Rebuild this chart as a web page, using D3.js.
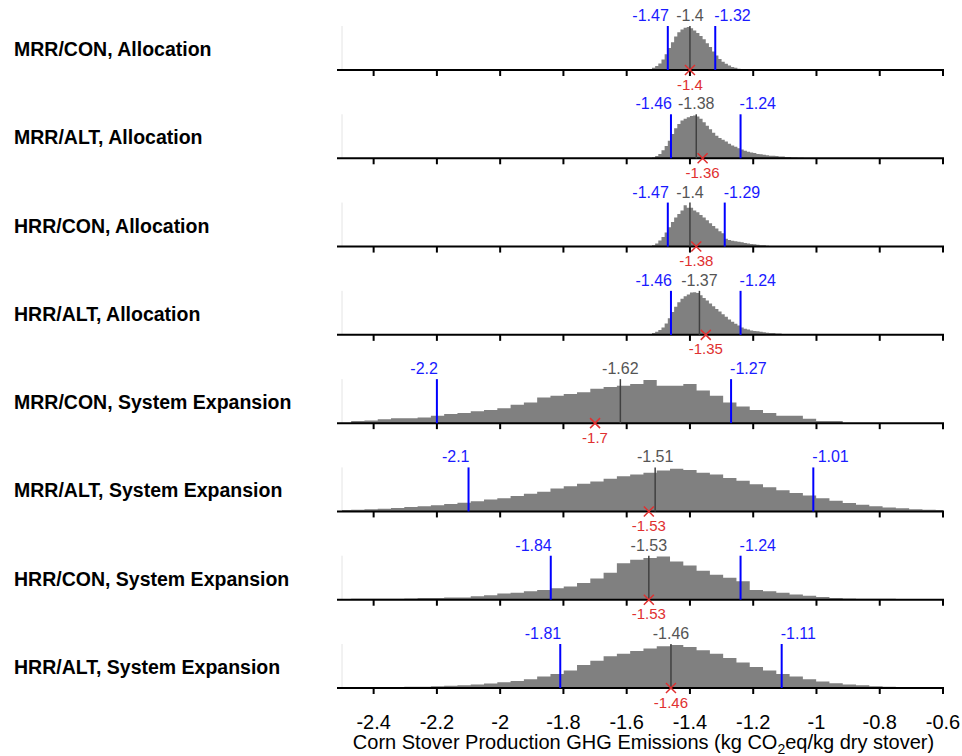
<!DOCTYPE html>
<html>
<head>
<meta charset="utf-8">
<script src="https://cdn.jsdelivr.net/npm/d3@7"></script>
<style>
  body { margin: 0; background: #fff; }
  text { font-family: "Liberation Sans", Arial, sans-serif; }
</style>
</head>
<body>
<svg width="962" height="756"></svg>
<script>
// panel names, top to bottom
var panelNames = [
    "MRR/CON, Allocation",
    "MRR/ALT, Allocation",
    "HRR/CON, Allocation",
    "HRR/ALT, Allocation",
    "MRR/CON, System Expansion",
    "MRR/ALT, System Expansion",
    "HRR/CON, System Expansion",
    "HRR/ALT, System Expansion"
]

// summary stats
var lowVals = [-1.47, -1.46, -1.47, -1.46, -2.2, -2.1, -1.84, -1.81]
var highVals = [-1.32, -1.24, -1.29, -1.24, -1.27, -1.01, -1.24, -1.11]
var medianVals = [-1.4, -1.38, -1.4, -1.37, -1.62, -1.51, -1.53, -1.46]
var meanVals = [-1.4, -1.36, -1.38, -1.35, -1.7, -1.53, -1.53, -1.46]

// histogram bins: first bin edge, bin width, relative heights (0-100)
var binStarts = [-1.53, -1.52, -1.52, -1.53, -2.471, -2.513, -2.513, -2.513]
var binWidths = [0.01, 0.01, 0.01, 0.01, 0.042, 0.042, 0.042, 0.042]

var hist1 = [2,5,9,15,24,36,50,63,76,86,92,96,98,95,90,84,77,70,61,52,42,33,25,19,14,10,7,5,3,2,1]
var hist2 = [2,5,10,18,28,40,55,68,78,86,90,93,96,97,95,90,82,74,66,58,51,46,42,38,33,29,26,23,20,17,15,13,12,10,9,8,7,6,6,5,4,4,3,3,2,2,1,1]
var hist3 = [3,7,14,22,32,44,56,66,74,82,94,88,88,82,78,72,66,60,53,47,41,35,30,18,15,13,12,11,10,8,7,6,5,4,3,3,2,1,1]
var hist4 = [2,4,7,11,17,26,38,52,64,74,82,88,92,96,97,95,90,84,78,71,65,59,53,47,41,35,30,25,21,17,14,12,10,9,8,7,6,5,4,4,3,3,2,2,1,1]
var hist5 = [5,6,9,11,11,13,17,21,23,27,30,34,42,47,58,62,66,70,78,82,85,89,98,85,85,89,74,62,47,38,30,23,17,17,10,5,5]
var hist6 = [3,4,5,6,8,10,12,14,17,20,23,27,30,35,40,45,52,57,63,68,74,80,84,88,93,97,94,88,84,76,70,62,55,48,42,36,30,24,19,15,12,9,7,5,4,3]
var hist7 = [1,2,2,2,2,3,4,4,5,5,8,10,14,16,19,22,26,30,38,48,61,83,91,95,98,87,78,66,57,50,42,22,19,16,12,9,6,4,3,2,2,2,1,1,1]
var hist8 = [1,1,2,2,2,3,3,4,5,6,8,10,13,16,20,26,32,40,52,62,72,78,84,90,95,98,93,86,78,68,58,48,40,32,26,20,15,11,8,6,4,3,2,2,1,1]
var hists = [hist1, hist2, hist3, hist4, hist5, hist6, hist7, hist8]

var xTicks = [-2.4, -2.2, -2, -1.8, -1.6, -1.4, -1.2, -1, -0.8, -0.6]

var svg = d3.select("svg")

var x = d3.scaleLinear().domain([-2.5, -0.6]).range([342, 943])
var yBase = d3.scaleLinear().domain([0, 7]).range([70, 688])
var h = d3.scaleLinear().domain([0, 100]).range([0, 44])

svg.append("clipPath").attr("id", "plotclip")
    .append("rect").attr("x", x(-2.5)).attr("y", 0).attr("width", x(-0.6) - x(-2.5)).attr("height", 756)

panelNames.forEach(function(name, i){
    var base = yBase(i)
    var g = svg.append("g")

    // left label
    g.append("text")
        .attr("x", 14).attr("y", base - 14)
        .attr("font-size", "19.5px").attr("font-weight", "bold")
        .attr("fill", "#000")
        .text(name)

    // faint left edge
    g.append("line")
        .attr("x1", x(-2.5)).attr("x2", x(-2.5))
        .attr("y1", base).attr("y2", base - h(100))
        .attr("stroke", "#e4e4e4").attr("stroke-width", 1)

    // histogram
    var vals = hists[i]
    var pts = vals.map(function(v, k){ return {x: binStarts[i] + k * binWidths[i], v: v} })
    pts.push({x: binStarts[i] + vals.length * binWidths[i], v: vals[vals.length - 1]})
    var area = d3.area()
        .curve(d3.curveStepAfter)
        .x(function(d){ return x(d.x) })
        .y0(base)
        .y1(function(d){ return base - h(d.v) })
    g.append("path")
        .datum(pts)
        .attr("d", area)
        .attr("fill", "#808080")
        .attr("clip-path", "url(#plotclip)")

    // axis line + ticks
    g.append("line")
        .attr("x1", x(-2.5) - 5).attr("x2", x(-0.6) + 1)
        .attr("y1", base).attr("y2", base)
        .attr("stroke", "#000").attr("stroke-width", 2)
    g.selectAll(".tk").data(xTicks).enter().append("line")
        .attr("x1", function(d){ return x(d) }).attr("x2", function(d){ return x(d) })
        .attr("y1", base).attr("y2", base + 6)
        .attr("stroke", "#000").attr("stroke-width", 2)

    // median line
    g.append("line")
        .attr("x1", x(medianVals[i])).attr("x2", x(medianVals[i]))
        .attr("y1", base).attr("y2", base - h(100))
        .attr("stroke", "#404040").attr("stroke-width", 1.5)
    g.append("text")
        .attr("x", x(medianVals[i])).attr("y", base - 49)
        .attr("text-anchor", "middle").attr("font-size", "16px")
        .attr("fill", "#555")
        .text(medianVals[i])

    // 95% interval lines
    g.append("line")
        .attr("x1", x(lowVals[i])).attr("x2", x(lowVals[i]))
        .attr("y1", base).attr("y2", base - h(100))
        .attr("stroke", "#0000ff").attr("stroke-width", 2)
    g.append("text")
        .attr("x", x(lowVals[i]) + 1).attr("y", base - 49)
        .attr("text-anchor", "end").attr("font-size", "16px")
        .attr("fill", "#1a1aff")
        .text(lowVals[i])
    g.append("line")
        .attr("x1", x(highVals[i])).attr("x2", x(highVals[i]))
        .attr("y1", base).attr("y2", base - h(100))
        .attr("stroke", "#0000ff").attr("stroke-width", 2)
    g.append("text")
        .attr("x", x(highVals[i]) - 1).attr("y", base - 49)
        .attr("text-anchor", "start").attr("font-size", "16px")
        .attr("fill", "#1a1aff")
        .text(highVals[i])

    // mean marker
    var mx = x(meanVals[i])
    g.append("path")
        .attr("d", "M" + (mx - 5) + "," + (base - 5) + "L" + (mx + 5) + "," + (base + 5) +
                   "M" + (mx - 5) + "," + (base + 5) + "L" + (mx + 5) + "," + (base - 5))
        .attr("stroke", "#e03030").attr("stroke-width", 1.5).attr("fill", "none")
    g.append("text")
        .attr("x", mx).attr("y", base + 19.5)
        .attr("text-anchor", "middle").attr("font-size", "15px")
        .attr("fill", "#e03030")
        .text(meanVals[i])
})

// bottom tick labels
var lastBase = yBase(7)
svg.selectAll(".tl").data(xTicks).enter().append("text")
    .attr("x", function(d){ return x(d) })
    .attr("y", lastBase + 41)
    .attr("text-anchor", "middle").attr("font-size", "20px")
    .attr("fill", "#000")
    .text(function(d){ return d })

var title = svg.append("text")
    .attr("x", (x(-2.5) + x(-0.6)) / 2 + 1).attr("y", lastBase + 61)
    .attr("text-anchor", "middle").attr("font-size", "20px").attr("fill", "#000")
title.append("tspan").text("Corn Stover Production GHG Emissions (kg CO")
title.append("tspan").attr("dy", 5).attr("font-size", "14px").text("2")
title.append("tspan").attr("dy", -5).text("eq/kg dry stover)")
</script>
</body>
</html>
